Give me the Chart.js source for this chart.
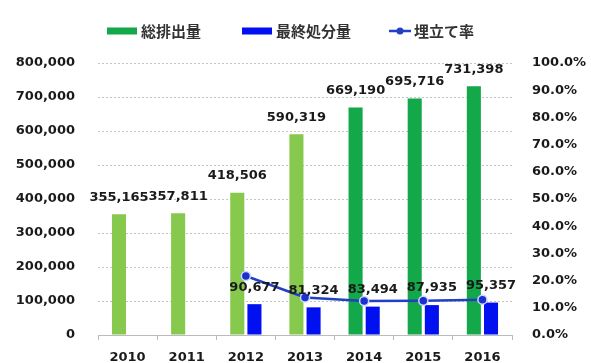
<!DOCTYPE html>
<html>
<head>
<meta charset="utf-8">
<script src="https://cdn.jsdelivr.net/npm/chart.js@4/dist/chart.umd.min.js"></script>
<style>
  body { margin: 0; background: #fff; }
  #wrap { width: 591px; height: 363px; }
</style>
</head>
<body>
<div id="wrap"><canvas id="mycanvas1" width="591" height="363"></canvas></div>
<script>
// yearly figures
var years = ['2010', '2011', '2012', '2013', '2014', '2015', '2016'];
var totalOutput = [355165, 357811, 418506, 590319, 669190, 695716, 731398];
var finalDisposal = [null, null, 90677, 81324, 83494, 87935, 95357];
var landfillRate = [null, null, 21.7, 13.8, 12.5, 12.6, 13.0];
var seriesNames = ['総排出量', '最終処分量', '埋立て率'];

var lightGreen = '#86c94c';
var darkGreen = '#13a84a';
var barBlue = '#0010f0';
var lineBlue = '#2140c4';
var tickFont = { family: 'DejaVu Sans', size: 13, weight: 'bold' };

// value labels above the bars + custom legend row
var extras = {
  id: 'extras',
  afterDatasetsDraw: function(chart) {
    var c = chart.ctx;
    c.save();
    c.font = 'bold 13px "DejaVu Sans"';
    c.fillStyle = '#1a1a1a';
    c.textAlign = 'center';
    c.textBaseline = 'middle';
    [0, 1].forEach(function(di) {
      var meta = chart.getDatasetMeta(di);
      meta.data.forEach(function(el, i) {
        var v = chart.data.datasets[di].data[i];
        if (v == null) return;
        c.fillText(v.toLocaleString('en-US'), el.x, el.y - 17);
      });
    });

    // legend
    var ly = 31;
    c.font = 'bold 15px "Noto Sans CJK JP"';
    c.textAlign = 'left';
    c.fillStyle = darkGreen;
    c.fillRect(107, ly - 3.5, 30, 7);
    c.fillStyle = '#333';
    c.fillText(seriesNames[0], 141, ly);
    c.fillStyle = barBlue;
    c.fillRect(242, ly - 3.5, 30, 7);
    c.fillStyle = '#333';
    c.fillText(seriesNames[1], 276, ly);
    c.strokeStyle = lineBlue;
    c.lineWidth = 2.5;
    c.beginPath();
    c.moveTo(389, ly);
    c.lineTo(411, ly);
    c.stroke();
    c.fillStyle = lineBlue;
    c.beginPath();
    c.arc(400, ly, 3.5, 0, Math.PI * 2);
    c.fill();
    c.fillStyle = '#333';
    c.fillText(seriesNames[2], 414, ly);
    c.restore();
  }
};

// fixed side widths; drop the half-label padding so the plot keeps its size
function fixWidth(w) {
  return function(s) {
    s.width = w;
    s.paddingTop = 0;
    s.paddingBottom = 0;
  };
}

var ctx = document.getElementById('mycanvas1').getContext('2d');
var myChart = new Chart(ctx, {
  type: 'bar',
  data: {
    labels: years,
    datasets: [
      {
        label: seriesNames[0],
        data: totalOutput,
        backgroundColor: function(c) { return c.dataIndex < 4 ? lightGreen : darkGreen; },
        categoryPercentage: 0.58,
        barPercentage: 0.82,
        yAxisID: 'y',
        order: 1
      },
      {
        label: seriesNames[1],
        data: finalDisposal,
        backgroundColor: barBlue,
        categoryPercentage: 0.58,
        barPercentage: 0.82,
        yAxisID: 'y',
        order: 1
      },
      {
        type: 'line',
        label: seriesNames[2],
        data: landfillRate,
        borderColor: lineBlue,
        borderWidth: 2.5,
        pointRadius: 4.5,
        pointBackgroundColor: '#1a30d0',
        pointBorderColor: '#d0d6ff',
        pointBorderWidth: 1.5,
        yAxisID: 'y1',
        order: 0
      }
    ]
  },
  options: {
    responsive: false,
    animation: false,
    layout: { padding: { top: 63, left: 0, right: 0, bottom: 0 } },
    plugins: {
      legend: { display: false },
      tooltip: { enabled: false }
    },
    scales: {
      x: {
        grid: { drawOnChartArea: false, drawTicks: true, tickLength: 5, color: '#bbbbbb' },
        border: { color: '#bbbbbb' },
        ticks: { font: tickFont, color: '#1a1a1a', padding: 10 },
        afterFit: function(s) { s.height = 28; }
      },
      y: {
        position: 'left',
        min: 0,
        max: 800000,
        grid: { color: '#c4c4c4', drawTicks: false },
        border: { display: false, dash: [2, 2] },
        ticks: {
          stepSize: 100000,
          font: tickFont,
          color: '#1a1a1a',
          padding: 23,
          callback: function(v) { return v.toLocaleString('en-US'); }
        },
        afterFit: fixWidth(98)
      },
      y1: {
        position: 'right',
        min: 0,
        max: 100,
        grid: { drawOnChartArea: false, drawTicks: false },
        border: { display: false },
        ticks: {
          stepSize: 10,
          font: tickFont,
          color: '#1a1a1a',
          padding: 20,
          callback: function(v) { return v.toFixed(1) + '%'; }
        },
        afterFit: fixWidth(79)
      }
    }
  },
  plugins: [extras]
});
</script>
</body>
</html>
